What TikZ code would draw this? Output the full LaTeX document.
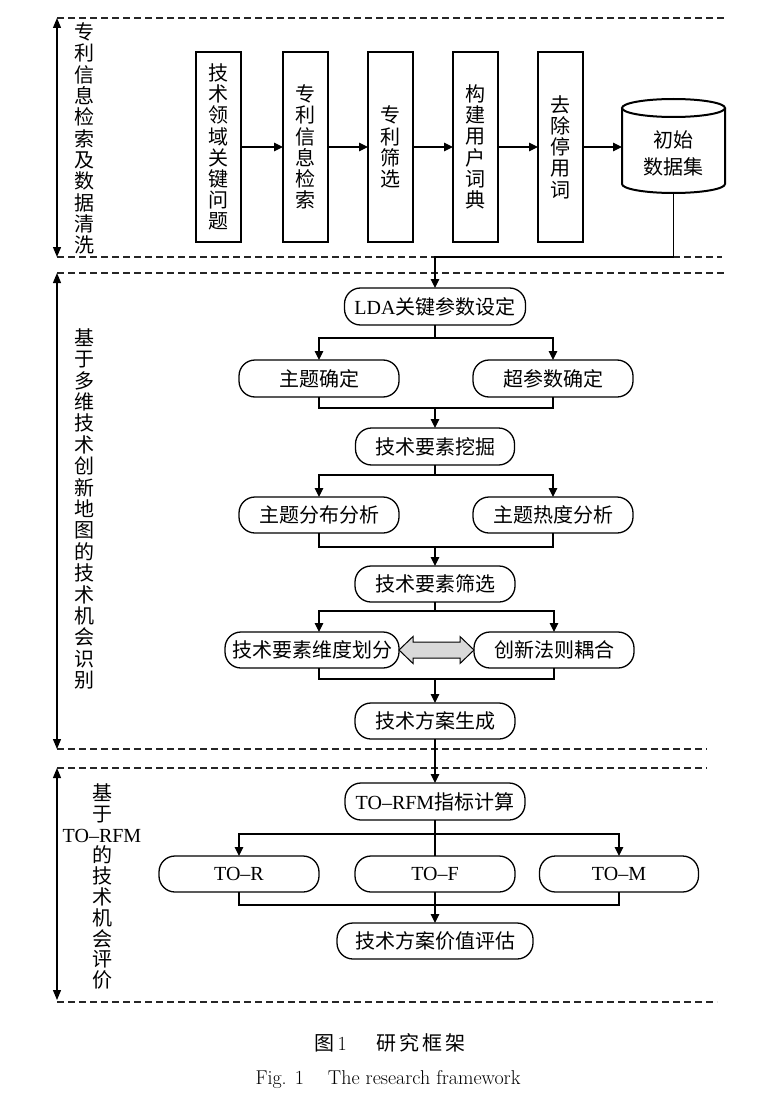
\documentclass[tikz,border=0pt]{standalone}
\usepackage{fontspec}
\newfontfamily\cjk{Noto Sans CJK SC}
\newfontfamily\tnr{Liberation Serif}
\usetikzlibrary{arrows.meta,calc}
\begin{document}
\begin{tikzpicture}[x=1pt,y=1pt,
  every node/.style={inner sep=0pt, outer sep=0pt},
  cn/.style={font=\cjk\fontsize{20pt}{21.2pt}\selectfont},
  vbox/.style={draw, line width=2pt, minimum width=45pt, minimum height=190pt, align=center, cn},
  pill/.style={draw, line width=1.3pt, rounded corners=16pt, minimum height=37pt, cn},
  lbl/.style={align=center, cn},
  conn/.style={line width=1.1pt},
  arrowline/.style={line width=1.1pt, -{Triangle[length=9pt,width=8.5pt]}},
  span/.style={line width=1.2pt, {Triangle[length=10pt,width=8pt]}-{Triangle[length=10pt,width=8pt]}},
  sep/.style={line width=1.1pt, dash pattern=on 7pt off 4pt, black!85}]

\useasboundingbox (0,0) rectangle (764,-1102);

% ---------- separators and side spans ----------
\draw[sep] (57,-18) -- (727,-18);
\draw[sep] (57,-257) -- (722,-257);
\draw[sep] (57,-273) -- (727,-273);
\draw[sep] (57,-749) -- (707,-749);
\draw[sep] (57,-768) -- (707,-768);
\draw[sep] (57,-1002) -- (717,-1002);

\coordinate (s1a) at (57,-18);   \coordinate (s1b) at (57,-257);
\coordinate (s2a) at (57,-273);  \coordinate (s2b) at (57,-749);
\coordinate (s3a) at (57,-768);  \coordinate (s3b) at (57,-1000);
\draw[span] (s1a) -- (s1b);
\draw[span] (s2a) -- (s2b);
\draw[span] (s3a) -- (s3b);

% ---------- side labels ----------
\node[lbl, font=\cjk\fontsize{20pt}{21.3pt}\selectfont] (l1) at (84,-138.5)
  {专\\利\\信\\息\\检\\索\\及\\数\\据\\清\\洗};
\node[lbl, font=\cjk\fontsize{20pt}{21.4pt}\selectfont] (l2) at (84,-509)
  {基\\于\\多\\维\\技\\术\\创\\新\\地\\图\\的\\技\\术\\机\\会\\识\\别};
\node[lbl, font=\cjk\fontsize{20pt}{20.8pt}\selectfont] (l3) at (102,-886.5)
  {基\\于\\{\tnr TO–RFM}\\的\\技\\术\\机\\会\\评\\价};

% ---------- section 1 ----------
\node[vbox] (b1) at (218.5,-147) {技\\术\\领\\域\\关\\键\\问\\题};
\node[vbox] (b2) at (305.5,-147) {专\\利\\信\\息\\检\\索};
\node[vbox] (b3) at (390.5,-147) {专\\利\\筛\\选};
\node[vbox] (b4) at (475.5,-147) {构\\建\\用\\户\\词\\典};
\node[vbox] (b5) at (560.5,-147) {去\\除\\停\\用\\词};

\draw[line width=2pt] (622,-108) -- (622,-184)
  arc[start angle=180, end angle=360, x radius=51.5pt, y radius=9pt] -- (725,-108);
\draw[line width=2pt] (673.5,-108) ellipse[x radius=51.5pt, y radius=9pt];
\node[lbl, font=\cjk\fontsize{20pt}{27pt}\selectfont, minimum width=103pt] (cyl) at (673.5,-153.5) {初始\\数据集};
\coordinate (cylbot) at (673.5,-193);

\draw[arrowline] (b1) -- (b2);
\draw[arrowline] (b2) -- (b3);
\draw[arrowline] (b3) -- (b4);
\draw[arrowline] (b4) -- (b5);
\draw[arrowline] (b5.east) -- (b5.east -| cyl.west);

% ---------- section 2 ----------
\node[pill, minimum width=181pt] (lda) at (435,-306.5) {{\tnr LDA}关键参数设定};
\node[pill, minimum width=160pt] (zt) at (319,-378.5) {主题确定};
\node[pill, minimum width=160pt] (cs) at (553,-378.5) {超参数确定};
\node[pill, minimum width=159pt] (wj) at (435,-446.5) {技术要素挖掘};
\node[pill, minimum width=160pt, minimum height=36pt] (fb) at (319,-515) {主题分布分析};
\node[pill, minimum width=160pt, minimum height=36pt] (rd) at (553,-515) {主题热度分析};
\node[pill, minimum width=160pt, minimum height=36pt] (sx) at (435,-584) {技术要素筛选};
\node[pill, minimum width=174pt, minimum height=36pt] (wd) at (312,-650) {技术要素维度划分};
\node[pill, minimum width=160pt, minimum height=36pt] (cx) at (554,-650) {创新法则耦合};
\node[pill, minimum width=160pt, minimum height=36pt] (sc) at (435,-721) {技术方案生成};

\coordinate (j1) at (673.5,-257);
\draw[arrowline] (cylbot) -- (j1) -| (lda.north);

\draw[arrowline] (lda.south) -- ++(0,-13) -| (zt.north);
\draw[arrowline] (lda.south) -- ++(0,-13) -| (cs.north);
\draw[conn] (zt.south) -- ++(0,-11) coordinate (m1) -| (cs.south);
\draw[arrowline] (m1 -| wj.north) -- (wj.north);

\draw[arrowline] (wj.south) -- ++(0,-10) -| (fb.north);
\draw[arrowline] (wj.south) -- ++(0,-10) -| (rd.north);
\draw[conn] (fb.south) -- ++(0,-14) coordinate (m2) -| (rd.south);
\draw[arrowline] (m2 -| sx.north) -- (sx.north);

\draw[arrowline] (sx.south) -- ++(0,-9) -| ([xshift=7pt]wd.north);
\draw[arrowline] (sx.south) -- ++(0,-9) -| (cx.north);
\draw[conn] ([xshift=7pt]wd.south) -- ++(0,-11) coordinate (m3) -| (cx.south);
\draw[arrowline] (m3 -| sc.north) -- (sc.north);

\draw[line width=1pt, fill=black!15] (wd.east) -- ++(14,13.5) -- ++(0,-5.5) -- ++(47,0) -- ++(0,5.5)
  -- (cx.west) -- ++(-14,-13.5) -- ++(0,5.5) -- ++(-47,0) -- ++(0,-5.5) -- cycle;

% ---------- section 3 ----------
\node[pill, minimum width=180pt] (trfm) at (435,-801.5) {{\tnr TO–RFM}指标计算};
\node[pill, minimum width=160pt, minimum height=36pt, font=\tnr\fontsize{20pt}{24pt}\selectfont] (tor) at (239,-874) {TO–R};
\node[pill, minimum width=160pt, minimum height=36pt, font=\tnr\fontsize{20pt}{24pt}\selectfont] (tof) at (435,-874) {TO–F};
\node[pill, minimum width=159pt, minimum height=36pt, font=\tnr\fontsize{20pt}{24pt}\selectfont] (tom) at (619,-874) {TO–M};
\node[pill, minimum width=196pt, minimum height=36pt] (pg) at (435,-941) {技术方案价值评估};

\draw[arrowline] (sc.south) -- (trfm.north);
\draw[arrowline] (trfm.south) -- ++(0,-14) -| (tor.north);
\draw[arrowline] (trfm.south) -- ++(0,-14) -| (tom.north);
\draw[conn] (trfm.south) -- (tof.north);
\draw[conn] (tor.south) -- ++(0,-13) coordinate (m4) -| (tom.south);
\draw[arrowline] (tof.south) -- (pg.north);

% ---------- caption ----------
\node[cn] (cap1) at (390,-1043) {图\,{\rmfamily 1}\hspace{30pt}研\hspace{3pt}究\hspace{3pt}框\hspace{3pt}架};
\node[font=\fontsize{20pt}{24pt}\selectfont] (cap2) at (388,-1080) {Fig. 1\hspace{24pt}The research framework};
\end{tikzpicture}
\end{document}
